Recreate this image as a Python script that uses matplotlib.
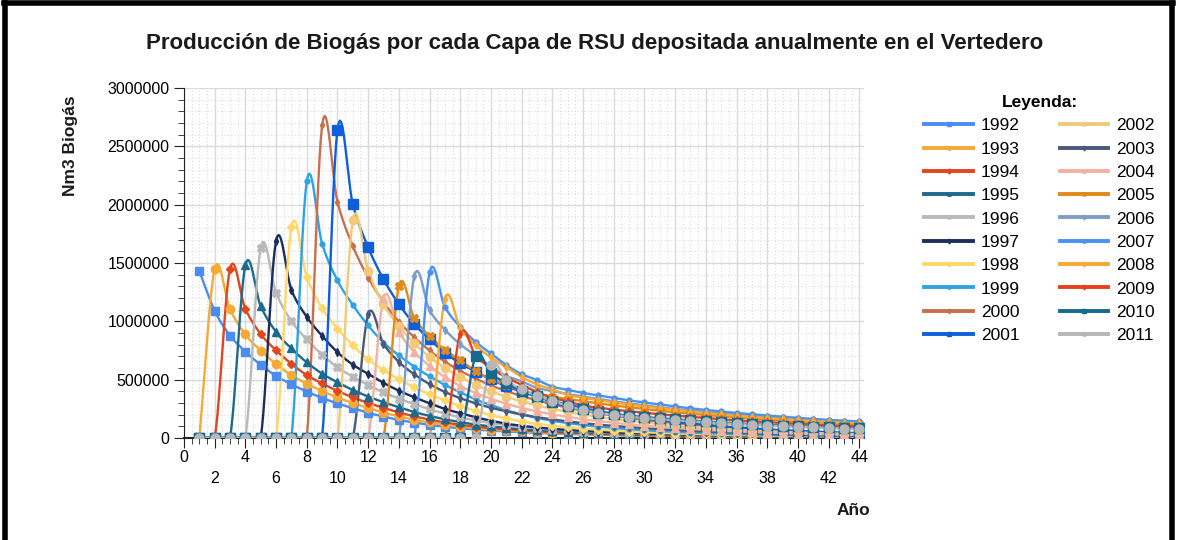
import numpy as np
import matplotlib
matplotlib.use('Agg')
import matplotlib.pyplot as plt
from matplotlib.lines import Line2D
from matplotlib.ticker import MultipleLocator

plt.rcParams['font.family'] = ['Liberation Sans', 'DejaVu Sans']

# años de deposito (capas) y primer año de produccion en el eje
years = [1992, 1993, 1994, 1995, 1996, 1997, 1998, 1999, 2000, 2001,
         2002, 2003, 2004, 2005, 2006, 2007, 2008, 2009, 2010, 2011]
start_x = [1, 2, 3, 4, 5, 6, 7, 8, 9, 10,
           11, 12, 13, 14, 15, 16, 17, 18, 19, 20]
last_x = 44

# produccion, en miles de Nm3 (desde el año de inicio)
v1992 = [1430, 1091, 878, 741, 626, 532, 460, 398, 343, 296,
         255, 215, 183, 154, 132, 112, 96, 83, 72, 63,
         56, 49, 43, 39, 34, 30, 27, 24, 21, 19,
         17, 16, 14, 13, 11, 10, 9, 8, 7, 7,
         6, 5, 5, 4]
v1993 = [1445, 1103, 887, 749, 633, 538, 465, 402, 347, 299,
         257, 217, 185, 156, 133, 113, 97, 84, 72, 64,
         56, 49, 43, 39, 35, 30, 27, 25, 22, 20,
         17, 16, 14, 13, 12, 10, 9, 8, 8, 7,
         6, 5, 5]
v1994 = [1450, 1106, 890, 751, 635, 539, 467, 403, 348, 300,
         258, 218, 186, 157, 133, 113, 97, 84, 73, 64,
         57, 49, 44, 39, 35, 30, 28, 25, 22, 20,
         17, 16, 15, 13, 12, 10, 9, 8, 8, 7,
         6, 6]
v1995 = [1480, 1129, 909, 767, 648, 551, 477, 411, 355, 306,
         263, 222, 189, 160, 136, 115, 99, 86, 74, 65,
         58, 50, 44, 40, 36, 31, 28, 25, 22, 20,
         18, 16, 15, 13, 12, 11, 10, 9, 8, 7,
         6]
v1996 = [1630, 1244, 1001, 844, 714, 606, 525, 453, 391, 337,
         290, 245, 209, 176, 150, 127, 109, 95, 82, 72,
         64, 55, 49, 44, 39, 34, 31, 28, 24, 22,
         20, 18, 16, 15, 13, 12, 11, 9, 8, 8]
v1997 = [1690, 1268, 1038, 875, 735, 628, 550, 472, 405, 349,
         297, 249, 212, 177, 148, 122, 104, 90, 78, 68,
         60, 53, 47, 42, 37, 33, 30, 27, 24, 21,
         19, 17, 15, 14, 12, 11, 10, 9, 8]
v1998 = [1810, 1381, 1111, 938, 793, 673, 583, 503, 434, 375,
         322, 272, 232, 195, 167, 141, 121, 105, 91, 80,
         71, 62, 54, 49, 43, 38, 34, 31, 27, 24,
         22, 20, 18, 16, 14, 13, 12, 10]
v1999 = [2200, 1665, 1350, 1140, 964, 818, 708, 612, 528, 455,
         392, 330, 282, 238, 202, 172, 147, 128, 110, 97,
         86, 75, 66, 59, 53, 46, 42, 37, 33, 30,
         26, 24, 22, 20, 18, 16, 14]
v2000 = [2680, 2025, 1646, 1375, 1166, 997, 863, 750, 654, 576,
         509, 450, 402, 359, 322, 289, 260, 233, 212, 190,
         172, 155, 139, 126, 113, 102, 91, 83, 75, 67,
         62, 56, 51, 46, 40, 38]
v2001 = [2640, 2003, 1634, 1360, 1148, 977, 846, 731, 640, 569,
         502, 444, 396, 354, 317, 285, 256, 230, 209, 187,
         169, 153, 137, 124, 111, 100, 90, 82, 74, 66,
         61, 55, 50, 45, 40]
v2002 = [1865, 1434, 1145, 960, 811, 694, 601, 522, 455, 401,
         354, 313, 280, 250, 224, 201, 181, 162, 147, 132,
         119, 108, 97, 88, 78, 71, 63, 58, 52, 47,
         43, 39, 35, 32]
v2003 = [1060, 806, 651, 546, 461, 394, 341, 297, 259, 228,
         201, 178, 159, 142, 127, 114, 103, 92, 84, 75,
         68, 61, 55, 50, 45, 40, 36, 33, 30, 27,
         24, 22, 20]
v2004 = [1200, 912, 737, 618, 522, 446, 386, 336, 293, 258,
         228, 202, 180, 161, 144, 130, 116, 104, 95, 85,
         77, 70, 62, 56, 50, 46, 41, 37, 34, 30,
         28, 25]
v2005 = [1303, 1029, 873, 756, 665, 573, 502, 456, 404, 378,
         354, 334, 314, 296, 279, 263, 248, 233, 220, 208,
         197, 186, 176, 167, 158, 150, 142, 136, 129, 122,
         116]
v2006 = [1385, 1094, 928, 803, 706, 609, 533, 485, 429, 402,
         377, 355, 334, 314, 296, 280, 263, 248, 234, 222,
         209, 198, 187, 177, 168, 159, 151, 144, 137, 130]
v2007 = [1420, 1122, 951, 824, 724, 625, 547, 497, 440, 412,
         386, 364, 342, 322, 304, 287, 270, 254, 240, 227,
         214, 203, 192, 182, 172, 163, 155, 148, 141]
v2008 = [1190, 940, 797, 690, 607, 524, 458, 417, 369, 345,
         324, 305, 287, 270, 255, 240, 226, 213, 201, 190,
         180, 170, 161, 152, 144, 137, 130, 124]
v2009 = [895, 707, 600, 519, 456, 394, 345, 313, 277, 260,
         243, 229, 216, 203, 192, 181, 170, 160, 151, 143,
         135, 128, 121, 115, 108, 103, 98]
v2010 = [700, 553, 469, 406, 357, 308, 270, 245, 217, 203,
         190, 179, 169, 159, 150, 141, 133, 125, 118, 112,
         106, 100, 95, 90, 85, 81]
v2011 = [626, 497, 417, 360, 320, 274, 240, 217, 197, 183,
         170, 160, 151, 142, 134, 126, 119, 112, 106, 100,
         95, 90, 85, 80, 76]

series = [v1992, v1993, v1994, v1995, v1996, v1997, v1998, v1999, v2000, v2001,
          v2002, v2003, v2004, v2005, v2006, v2007, v2008, v2009, v2010, v2011]

colors = ['#4a8cf0', '#f7a935', '#e2461d', '#1d6a8c', '#b9b9b9',
          '#1c2f5c', '#ffd86a', '#2ea3e3', '#c8704d', '#0f5fd8',
          '#f2c978', '#4a5a7a', '#f2b2a2', '#e08a1c', '#7f9bc8',
          '#4a92f2', '#f8a833', '#e8401b', '#176a8e', '#b7b7b7']
markers = ['s', 'o', 'D', '^', 'X', 'd', 'D', 'o', 'd', 's',
           'o', 'd', '^', 'X', 'd', 'o', 'd', 'd', 's', 'o']
msizes = [6, 6, 4.5, 5.5, 6, 4, 4, 3.5, 3.5, 6.5,
          6, 4, 5.5, 6, 4, 3.5, 4, 4, 6.5, 6.5]


def smooth(x, y, n=12):
    # curva suavizada tipo Catmull-Rom que pasa por los puntos
    x = np.asarray(x, float)
    y = np.asarray(y, float)
    m = np.gradient(y, x)
    xs, ys = [], []
    for i in range(len(x) - 1):
        t = np.linspace(0, 1, n, endpoint=False)
        h = x[i + 1] - x[i]
        h00 = 2 * t**3 - 3 * t**2 + 1
        h10 = t**3 - 2 * t**2 + t
        h01 = -2 * t**3 + 3 * t**2
        h11 = t**3 - t**2
        xs.append(x[i] + t * h)
        ys.append(h00 * y[i] + h10 * h * m[i] + h01 * y[i + 1] + h11 * h * m[i + 1])
    xs.append([x[-1]])
    ys.append([y[-1]])
    return np.concatenate(xs), np.concatenate(ys)


fig = plt.figure(figsize=(11.77, 5.40), dpi=100)
ax = fig.add_axes([0.1563, 0.189, 0.5777, 0.648])

handles = []
for yr, s0, vals, c, mk, ms in zip(years, start_x, series, colors, markers, msizes):
    x = np.arange(1, last_x + 1)
    y = np.zeros(len(x))
    y[s0 - 1:s0 - 1 + len(vals)] = np.array(vals) * 1000
    xs, ys = smooth(x, y)
    ax.plot(xs, ys, color=c, lw=1.7, zorder=3)
    ax.plot(x, y, ls='none', marker=mk, ms=ms, color=c, mec=c, zorder=4)
    handles.append(Line2D([0], [0], color=c, lw=2.8, marker=mk, ms=2.5, mec=c))

ax.set_xlim(0, 44.3)
ax.set_ylim(0, 3000000)
ax.xaxis.set_major_locator(MultipleLocator(2))
ax.xaxis.set_minor_locator(MultipleLocator(0.5))
ax.yaxis.set_major_locator(MultipleLocator(500000))
ax.yaxis.set_minor_locator(MultipleLocator(100000))

ticks = np.arange(0, 45, 2)
ax.set_xticks(ticks)
ax.set_xticklabels([str(t) if t % 4 == 0 else '\n' + str(t) for t in ticks])
for lab in ax.get_xticklabels():
    lab.set_linespacing(1.5)
ax.set_yticklabels([str(int(v)) for v in ax.get_yticks()])

ax.grid(which='major', color='#dadada', lw=1.0, zorder=0)
ax.grid(which='minor', color='#dcdcdc', lw=0.8, ls=(0, (1, 2)), zorder=0)
ax.set_axisbelow(True)

for sp in ['top', 'right']:
    ax.spines[sp].set_visible(False)
ax.spines['left'].set_color('#222222')
ax.spines['bottom'].set_color('#222222')
ax.spines['bottom'].set_linewidth(1.5)
ax.tick_params(axis='both', which='major', labelsize=11.5, length=7, color='#222222')
ax.tick_params(axis='both', which='minor', length=4, color='#222222')
ax.tick_params(axis='x', which='major', pad=2)

fig.text(0.505, 0.92, 'Producción de Biogás por cada Capa de RSU depositada anualmente en el Vertedero',
         ha='center', va='center', fontsize=16, fontweight='bold', color='#1a1a1a')
fig.text(0.06, 0.73, 'Nm3 Biogás', rotation=90, ha='center', va='center',
         fontsize=12.5, fontweight='bold', color='#1a1a1a')
fig.text(0.725, 0.055, 'Año', ha='center', va='center',
         fontsize=12.5, fontweight='bold', color='#1a1a1a')

leg = fig.legend(handles, [str(y) for y in years], ncol=2, loc='upper left',
                 bbox_to_anchor=(0.772, 0.853), frameon=False, fontsize=12.5,
                 title='Leyenda:', title_fontproperties={'weight': 'bold', 'size': 12.5},
                 handlelength=2.8, handletextpad=0.45, labelspacing=0.47,
                 columnspacing=2.3)

# marco negro de la imagen
for xy in [([0.003, 0.997], [0.995, 0.995]), ([0.004, 0.004], [0, 0.995]),
           ([0.996, 0.996], [0, 0.995])]:
    fig.add_artist(Line2D(xy[0], xy[1], color='black', lw=4, transform=fig.transFigure))

fig.savefig('out.png', dpi=100)
